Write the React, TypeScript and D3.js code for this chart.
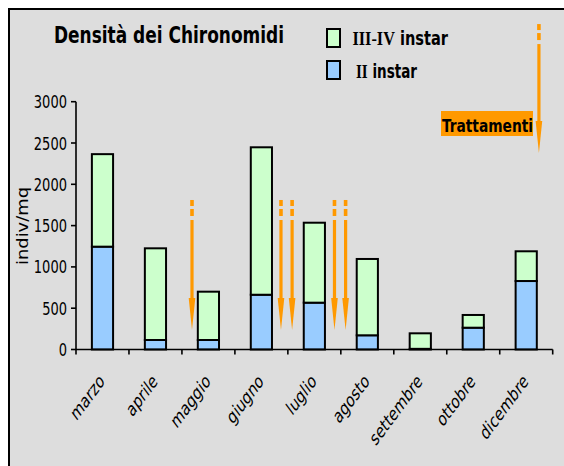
import * as d3 from "d3";

const W = 564;
const H = 466;

// months on the x axis
const months = [
  "marzo",
  "aprile",
  "maggio",
  "giugno",
  "luglio",
  "agosto",
  "settembre",
  "ottobre",
  "dicembre",
];
// indiv/mq
const instarII = [1245, 115, 115, 663, 567, 172, 8, 264, 829];
const instarIIIIV = [1120, 1110, 585, 1785, 968, 924, 188, 154, 360];
const yTicks = [0, 500, 1000, 1500, 2000, 2500, 3000];

// treatment arrows: position in month slots, top and tip in indiv/mq
const treatPos = [2.19, 3.87, 4.08, 4.88, 5.09, 8.74];
const treatTop = [1810, 1810, 1810, 1810, 1810, 3940];
const treatTip = [236, 236, 236, 236, 236, 2379];

const orange = "#FF9900";
const green = "#CCFFCC";
const blue = "#99CCFF";
const sans = "'DejaVu Sans Condensed', 'DejaVu Sans', sans-serif";
const serif = "'Liberation Serif', 'DejaVu Serif', serif";

const left = 76;
const right = 552.7;
const top = 101.7;
const bottom = 349.5;

export default function App() {
  const slot = d3.scaleLinear().domain([0, months.length]).range([left, right]);
  const x = d3
    .scaleBand()
    .domain(months)
    .range([left, right])
    .paddingInner(0.6)
    .paddingOuter(0.3);
  const y = d3.scaleLinear().domain([0, 3000]).range([bottom, top]);

  const rows = months.map((m, i) => ({
    month: m,
    ii: instarII[i],
    iiiiv: instarIIIIV[i],
  }));
  const series = d3.stack<any>().keys(["ii", "iiiiv"])(rows);
  const fills = [blue, green];

  return (
    <svg
      width={W}
      height={H}
      style={{ position: "absolute", left: 0, top: 0, display: "block" }}
    >
      <rect x={9} y={9} width={W} height={H} fill="#DDDDDD" stroke="#000" strokeWidth={2} />

      {/* title */}
      <text
        transform="translate(54,43.3) scale(1,1.2)"
        fontFamily={sans}
        fontStretch="condensed"
        fontWeight="bold"
        fontSize={19}
        textLength={230}
        lengthAdjust="spacingAndGlyphs"
      >
        Densità dei Chironomidi
      </text>

      {/* legend */}
      <rect x={327} y={29} width={13} height={18} fill={green} stroke="#000" strokeWidth={2} />
      <rect x={327} y={61} width={13} height={18} fill={blue} stroke="#000" strokeWidth={2} />
      <text
        transform="translate(352.5,45) scale(1,1.15)"
        fontWeight="bold"
        fontSize={17}
        textLength={95.5}
        lengthAdjust="spacingAndGlyphs"
      >
        <tspan fontFamily={serif}>III-IV</tspan>
        <tspan fontFamily={sans} fontStretch="condensed"> instar</tspan>
      </text>
      <text
        transform="translate(356,78.3) scale(1,1.15)"
        fontWeight="bold"
        fontSize={17}
        textLength={61}
        lengthAdjust="spacingAndGlyphs"
      >
        <tspan fontFamily={serif}>II</tspan>
        <tspan fontFamily={sans} fontStretch="condensed"> instar</tspan>
      </text>

      {/* bars */}
      {series.map((s, si) =>
        s.map((d, i) => (
          <rect
            key={`${si}-${i}`}
            x={x(months[i])}
            y={y(d[1])}
            width={x.bandwidth()}
            height={y(d[0]) - y(d[1])}
            fill={fills[si]}
            stroke="#000"
            strokeWidth={2}
          />
        ))
      )}

      {/* treatment arrows */}
      {treatPos.map((p, i) => {
        const cx = slot(p);
        const y0 = y(treatTop[i]);
        const y1 = y(treatTip[i]);
        return (
          <g key={`t${i}`} fill={orange}>
            <rect x={cx - 1.8} y={y0} width={3.6} height={6} />
            <rect x={cx - 1.8} y={y0 + 9} width={3.6} height={7} />
            <rect x={cx - 1.6} y={y0 + 20} width={3.2} height={y1 - y0 - 50} />
            <path d={`M${cx - 3.3},${y1 - 32}L${cx + 3.3},${y1 - 32}L${cx},${y1}Z`} />
          </g>
        );
      })}

      {/* Trattamenti label */}
      <rect x={441} y={111} width={92} height={25} fill={orange} />
      <text
        transform="translate(442,131.7) scale(1,1.2)"
        fontFamily={sans}
        fontStretch="condensed"
        fontWeight="bold"
        fontSize={15}
        textLength={91}
        lengthAdjust="spacingAndGlyphs"
      >
        Trattamenti
      </text>

      {/* y axis */}
      <line x1={left} x2={left} y1={top} y2={bottom} stroke="#000" strokeWidth={1.6} />
      {yTicks.map((t) => (
        <g key={`y${t}`}>
          <line x1={left - 5} x2={left} y1={y(t)} y2={y(t)} stroke="#000" strokeWidth={1.6} />
          <text
            transform={`translate(67,${y(t) + 6.5}) scale(1,1.18)`}
            textAnchor="end"
            fontFamily={sans}
            fontStretch="condensed"
            fontSize={14.5}
          >
            {t}
          </text>
        </g>
      ))}
      <text
        transform="translate(28.2,226) rotate(-90)"
        textAnchor="middle"
        fontFamily={sans}
        fontStretch="condensed"
        fontSize={15}
        textLength={78}
        lengthAdjust="spacingAndGlyphs"
      >
        indiv/mq
      </text>

      {/* x axis */}
      <line x1={left} x2={right} y1={bottom} y2={bottom} stroke="#000" strokeWidth={1.6} />
      {d3.range(months.length + 1).map((k) => (
        <line
          key={`xt${k}`}
          x1={slot(k)}
          x2={slot(k)}
          y1={bottom}
          y2={bottom + 5}
          stroke="#000"
          strokeWidth={1.6}
        />
      ))}
      {months.map((m) => (
        <text
          key={m}
          transform={`translate(${(x(m) ?? 0) + x.bandwidth() / 2 + 3},382.5) scale(1,1.35) rotate(-45)`}
          textAnchor="end"
          fontFamily={sans}
          fontStretch="condensed"
          fontSize={14.5}
        >
          {m}
        </text>
      ))}
    </svg>
  );
}
